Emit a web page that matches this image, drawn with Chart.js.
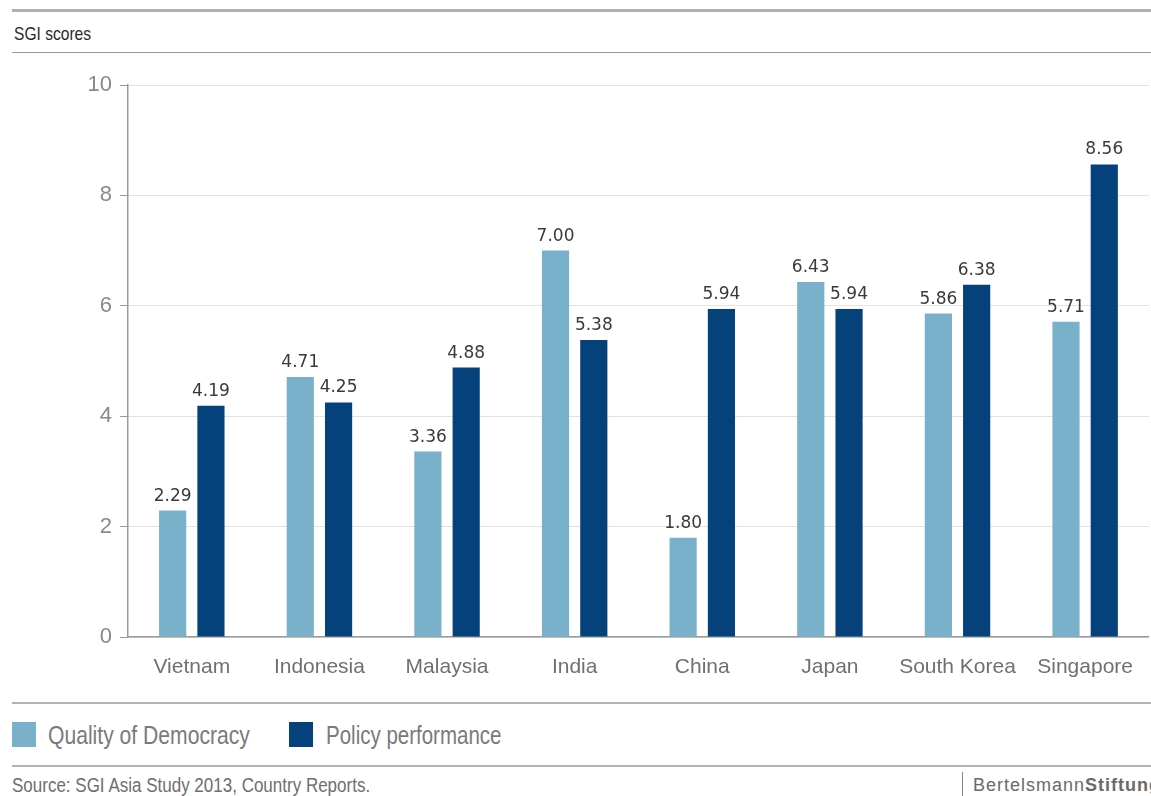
<!DOCTYPE html>
<html>
<head>
<meta charset="utf-8">
<script src="https://cdn.jsdelivr.net/npm/chart.js@4/dist/chart.umd.min.js"></script>
<style>
  body { margin: 0; width: 1151px; height: 796px; overflow: hidden; background: #fff; position: relative;
         font-family: "Liberation Sans", Arial, sans-serif; }
  .abs { position: absolute; }
  .narrow { position: absolute; transform: scaleX(0.82); transform-origin: 0 0; white-space: nowrap; }
  .rule { position: absolute; left: 12px; width: 1139px; background: #b3b3b3; }
  #chartBox { position: absolute; left: 0; top: 60px; width: 1151px; height: 630px; }
</style>
</head>
<body>
<div class="rule" style="top:9px;height:3px;background:#b0b0b0"></div>
<div class="narrow" style="left:14px;top:24px;font-size:19px;line-height:19px;color:#2a2a2a">SGI scores</div>
<div class="rule" style="top:52px;height:1px;background:#9a9a9a"></div>

<div id="chartBox"><canvas id="sgiChart" width="1151" height="630"></canvas></div>

<div class="rule" style="top:702px;height:2px"></div>
<div class="abs" style="left:12px;top:722px;width:24px;height:25px;background:#79b0ca"></div>
<div class="narrow" style="left:48px;top:722px;font-size:25px;line-height:26px;color:#7a7a7a;transform:scaleX(0.845)">Quality of Democracy</div>
<div class="abs" style="left:289px;top:722px;width:24px;height:25px;background:#05427c"></div>
<div class="narrow" style="left:326px;top:722px;font-size:25px;line-height:26px;color:#7a7a7a">Policy performance</div>
<div class="rule" style="top:765px;height:2px"></div>
<div class="narrow" style="left:12px;top:775px;font-size:20px;line-height:20px;color:#6e6e6e;transform:scaleX(0.85)">Source: SGI Asia Study 2013, Country Reports.</div>
<div class="abs" style="left:962px;top:772px;width:1px;height:24px;background:#888"></div>
<div class="abs" style="left:973px;top:776px;font-size:18px;line-height:18px;letter-spacing:1px;color:#6a6a6a;white-space:nowrap">Bertelsmann<b>Stiftung</b></div>

<script>
// categories and series
const paises = ["Vietnam", "Indonesia", "Malaysia", "India", "China", "Japan", "South Korea", "Singapore"];
const calidadDemocracia = [2.29, 4.71, 3.36, 7.00, 1.80, 6.43, 5.86, 5.71];
const desempenoPolitico = [4.19, 4.25, 4.88, 5.38, 5.94, 5.94, 6.38, 8.56];
const ticksY = [0, 2, 4, 6, 8, 10];

const fuente = '"Liberation Sans", Arial, sans-serif';

// draws the value above every bar
const etiquetasValor = {
  id: "etiquetasValor",
  afterDatasetsDraw(chart) {
    const c = chart.ctx;
    c.save();
    c.font = '17px "DejaVu Sans", sans-serif';
    c.fillStyle = "#3a3a3a";
    c.textAlign = "center";
    c.textBaseline = "alphabetic";
    chart.data.datasets.forEach((ds, i) => {
      chart.getDatasetMeta(i).data.forEach((bar, j) => {
        c.fillText(ds.data[j].toFixed(2), bar.x, bar.y - 10);
      });
    });
    c.restore();
  }
};

const ctx = document.getElementById("sgiChart").getContext("2d");

new Chart(ctx, {
  type: "bar",
  data: {
    labels: paises,
    datasets: [
      {
        label: "Quality of Democracy",
        data: calidadDemocracia,
        backgroundColor: "#79b0ca",
        barPercentage: 0.71,
        categoryPercentage: 0.6
      },
      {
        label: "Policy performance",
        data: desempenoPolitico,
        backgroundColor: "#05427c",
        barPercentage: 0.71,
        categoryPercentage: 0.6
      }
    ]
  },
  options: {
    responsive: false,
    animation: false,
    layout: { padding: { top: 25, right: 0, left: 0, bottom: 0 } },
    plugins: {
      legend: { display: false },
      tooltip: { enabled: false }
    },
    scales: {
      x: {
        grid: { display: false, drawTicks: false },
        border: { display: true, color: "#9a9a9a", width: 1.5 },
        ticks: {
          color: "#707070",
          padding: 18,
          maxRotation: 0,
          minRotation: 0,
          autoSkip: false,
          font: { family: fuente, size: 21 }
        },
        afterFit(scale) { scale.height = 53; }
      },
      y: {
        min: 0,
        max: 10,
        afterBuildTicks(scale) { scale.ticks = ticksY.map((v) => ({ value: v })); },
        grid: { color: "#e2e2e2", tickColor: "#9a9a9a", tickLength: 8 },
        border: { color: "#9a9a9a", width: 1.5 },
        ticks: {
          color: "#8a8a8a",
          padding: 8,
          font: { family: fuente, size: 22 }
        },
        afterFit(scale) { scale.width = 128; }
      }
    }
  },
  plugins: [etiquetasValor]
});
</script>
</body>
</html>
